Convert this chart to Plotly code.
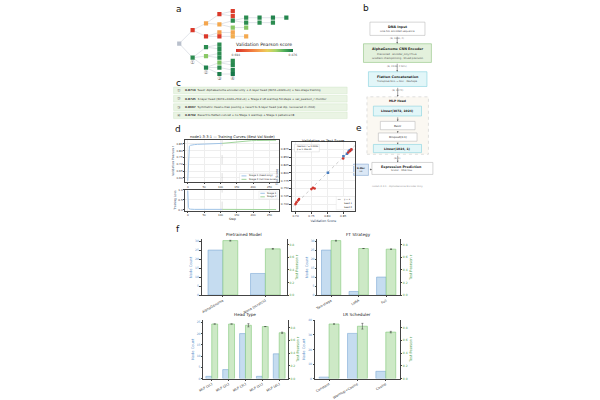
import plotly.graph_objects as go

FONT = "DejaVu Sans"
W, H = 600, 400

# ---------------- data ----------------
# panel a: search tree (depth, vertical slot, parent index, validation score; None = root)
tree_depth = [0, 1, 1, 2, 2, 2, 2, 2,
              3, 3, 3, 3, 3, 3, 3, 3, 3, 3, 3,
              4, 4, 4, 4, 4, 4, 4, 4, 4, 4,
              5, 5, 5, 5, 6, 6, 7, 7, 8]
tree_slot = [42.3, 28.7, 56.7, 21.7, 35, 46, 55, 66.7,
             12.3, 22.7, 31, 35, 43.3, 47.7, 52.3, 56.7, 61.7, 66.7, 73.3,
             9.3, 14.3, 19, 26, 31, 35, 60, 64.3, 69.3, 73.3,
             16, 21, 26, 35, 16, 21, 16, 21, 16]
tree_parent = [-1, 0, 0, 1, 1, 2, 2, 2,
               3, 3, 4, 4, 5, 5, 6, 6, 7, 7, 7,
               8, 8, 9, 9, 10, 11, 16, 16, 17, 18,
               21, 21, 22, 24, 29, 30, 33, 34, 35]
tree_score = [None, 0.700, 0.866, 0.770, 0.700, 0.866, 0.830, 0.871,
              0.700, 0.772, 0.765, 0.702, 0.866, 0.868, 0.866, 0.868, 0.835, 0.866, 0.8725,
              0.702, 0.705, 0.866, 0.830, 0.770, 0.775, 0.866, 0.868, 0.870, 0.8762,
              0.866, 0.866, 0.832, 0.772, 0.868, 0.866, 0.870, 0.866, 0.869]
path_marks = ["①", "②", "③", "④"]
path_nodes = [2, 7, 18, 28]
score_min, score_max = 0.694, 0.876

# panel c: improvement log
log_scores = ["0.8713", "0.8725", "0.8667", "0.8762"]
log_texts = [
    "Seed: AlphaGenome encoder-only + 2-layer head (3072→1024→1) + two-stage training",
    "3-layer head (3072→1024→512→1) + Stage 2 LR warmup 50 steps + val_pearson_r monitor",
    "Symmetric mean+max pooling + revert to 3-layer head (val dip, recovered in child)",
    "Revert to flatten concat + no Stage 1 warmup + Stage 1 patience=8",
]

# panel d: training curves
s1_steps = [0, 150, 300, 500, 800, 1200, 2000, 3000, 4500, 6000, 7500, 9000, 10500]
s1_val = [0.58, 0.70, 0.80, 0.832, 0.838, 0.841, 0.843, 0.845, 0.847, 0.848, 0.850, 0.851, 0.852]
s2_steps = [10500, 12000, 13500, 15000, 16500, 18000, 19500, 21000, 22500, 24000, 25500, 27000]
s2_val = [0.852, 0.856, 0.860, 0.864, 0.867, 0.870, 0.872, 0.873, 0.874, 0.874, 0.875, 0.875]
s1_loss_steps = [0, 100, 200, 400, 800, 2000, 5000, 10500]
s1_loss = [0.95, 0.40, 0.12, 0.06, 0.04, 0.03, 0.03, 0.03]
s2_loss_steps = [10500, 15000, 20000, 27000]
s2_loss = [0.03, 0.025, 0.02, 0.02]
stage_switch = 10500

# panel e: validation vs test
seed0_val = [0.700, 0.703, 0.708, 0.711, 0.750, 0.755, 0.760, 0.850, 0.866, 0.872, 0.876]
seed0_test = [0.700, 0.706, 0.712, 0.716, 0.748, 0.752, 0.750, 0.846, 0.865, 0.870, 0.875]
seed1_val = [0.802, 0.851, 0.862, 0.868, 0.871, 0.875]
seed1_test = [0.800, 0.853, 0.861, 0.869, 0.872, 0.874]

# panel f: ablation bars
pre_cats = ["AlphaGenome", "None (scratch)"]
pre_count = [25, 12]
pre_r = [0.866, 0.735]
pre_err = [0.008, 0.006]
ft_cats = ["Two-stage", "LoRA", "Full"]
ft_count = [25, 2, 10]
ft_r = [0.866, 0.74, 0.73]
ft_err = [0.008, 0.0, 0.004]
head_cats = ["MLP (1L)", "MLP (2L)", "MLP (3L)", "MLP (1L)", "MLP (4L)"]
head_count = [1, 4, 20, 1, 11]
head_r = [0.855, 0.855, 0.835, 0.815, 0.718]
head_err = [0.0, 0.0, 0.025, 0.0, 0.01]
lr_cats = ["Constant", "Warmup+Cosine", "Cosine"]
lr_count = [1, 31, 5]
lr_r = [0.855, 0.82, 0.728]
lr_err = [0.0, 0.045, 0.012]

# ---------------- helpers ----------------
shapes, annotations = [], []
BLUE_F, BLUE_E = "#c5dcf0", "#7ea9d5"
GREEN_F, GREEN_E = "#cde9c6", "#82c878"
BLUE_T, GREEN_T = "#5b8fc9", "#4c9a45"


def fx(x):
    return x / W


def fy(y):
    return 1 - y / H


def text(x, y, s, size=4.0, color="#222", bold=False, xanchor="center", yanchor="middle", angle=0):
    if bold:
        s = "<b>" + s + "</b>"
    annotations.append(dict(x=fx(x), y=fy(y), xref="paper", yref="paper", text=s, showarrow=False,
                            font=dict(size=size, color=color, family=FONT), xanchor=xanchor,
                            yanchor=yanchor, textangle=angle, borderpad=0))


def rect(x0, y0, x1, y1, fill, line, width=0.6, dash="solid", layer="below"):
    shapes.append(dict(type="rect", xref="paper", yref="paper", x0=fx(x0), x1=fx(x1), y0=fy(y1), y1=fy(y0),
                       fillcolor=fill, line=dict(color=line, width=width, dash=dash), layer=layer))


def arrow(x, y0, y1, color="#666"):
    annotations.append(dict(x=fx(x), y=fy(y1), xref="paper", yref="paper", ax=0, ay=(y1 - y0) * -1,
                            axref="pixel", ayref="pixel", showarrow=True, arrowhead=2, arrowsize=0.6,
                            arrowwidth=0.6, arrowcolor=color, text=""))


def dom_x(x0, x1):
    return [x0 / W, x1 / W]


def dom_y(top, bottom):
    return [1 - bottom / H, 1 - top / H]


# page background
rect(168, 0, 431, 400, "white", "white", width=0)

# ---------------- panel a ----------------
text(175, 7, "a", size=9, color="#111", xanchor="center")
ex, ey = [], []
for i, p in enumerate(tree_parent):
    if p >= 0:
        ex += [tree_depth[p], tree_depth[i], None]
        ey += [tree_slot[p], tree_slot[i], None]
fig = go.Figure()
fig.add_trace(go.Scatter(x=ex, y=ey, mode="lines", line=dict(color="#d9dde3", width=0.8),
                         xaxis="x9", yaxis="y9", hoverinfo="skip", showlegend=False))
scored = [i for i, s in enumerate(tree_score) if s is not None]
colorscale = [[0, "#d73027"], [0.22, "#ef6a3a"], [0.4, "#f6a04d"], [0.55, "#e9cf5a"],
              [0.7, "#a5d46a"], [0.85, "#4fae5b"], [1, "#17784a"]]
fig.add_trace(go.Scatter(
    x=[tree_depth[i] for i in scored], y=[tree_slot[i] for i in scored], mode="markers",
    marker=dict(symbol="square", size=4.2, color=[tree_score[i] for i in scored], colorscale=colorscale,
                cmin=score_min, cmax=score_max, line=dict(width=0),
                colorbar=dict(orientation="h", x=fx(261.5), xanchor="center", y=fy(48.2), yanchor="top",
                              lenmode="pixels", len=57, thickness=3.2, thicknessmode="pixels",
                              outlinewidth=0, xpad=0, ypad=0, tickvals=[score_min, score_max],
                              ticktext=[f"{score_min:.3f}", f"{score_max:.3f}"], ticks="",
                              tickfont=dict(size=3, family=FONT, color="#555"))),
    xaxis="x9", yaxis="y9", hoverinfo="skip", showlegend=False))
text(261.5, 43.5, "Validation Pearson score", size=4.6, color="#222")
fig.add_trace(go.Scatter(x=[tree_depth[0]], y=[tree_slot[0]], mode="markers",
                         marker=dict(symbol="square", size=4.2, color="#b9c0cc"),
                         xaxis="x9", yaxis="y9", hoverinfo="skip", showlegend=False))
fig.add_trace(go.Scatter(x=[tree_depth[i] for i in path_nodes], y=[tree_slot[i] + 5.2 for i in path_nodes],
                         mode="text", text=path_marks, textfont=dict(size=5, color="#777", family=FONT),
                         xaxis="x9", yaxis="y9", hoverinfo="skip", showlegend=False))

# ---------------- panel b ----------------
text(364, 6, "b", size=9, color="#111")
rect(368, 20.5, 423.5, 34, "white", "#bbbbbb")
text(395.5, 25, "DNA Input", size=3.3, bold=True)
text(395.5, 30, "One-hot encoded sequence", size=2.5, color="#555")
text(395.5, 37.5, "(B, 196k, 4)", size=2.4, color="#777")
arrow(395.5, 34, 42.5)
rect(361.5, 42.5, 430, 61.5, "#e3f1dc", "#8fc27f")
text(395.5, 48, "AlphaGenome CNN Encoder", size=3.3, bold=True)
text(395.5, 53.5, "Pretrained · encoder_only=True", size=2.5, color="#555")
text(395.5, 57.5, "Gradient checkpointing · Mixed precision", size=2.5, color="#555")
text(395.5, 65.5, "(B, 1536, 2 NCL)", size=2.4, color="#777")
arrow(395.5, 61.5, 71)
rect(366.5, 71, 425.5, 86, "#e2f6f8", "#84d2df")
text(396, 76, "Flatten Concatenation", size=3.3, bold=True)
text(396, 81.3, "Transpose NCL → NLC · Reshape", size=2.5, color="#555")
text(396, 90, "(B, 3072)", size=2.4, color="#777")
arrow(396, 86, 96.5)
rect(365, 96.5, 427, 155, "#fbf8f2", "#cccccc", dash="dot")
text(396, 101, "MLP Head", size=3.0, bold=True)
rect(371.5, 106, 420, 116, "#e2f6f8", "#84d2df")
text(396, 111, "Linear(3072, 1024)", size=3.0, bold=True)
arrow(396, 116, 121.5)
rect(378.5, 121.5, 413.5, 130, "white", "#bbbbbb")
text(396, 125.8, "ReLU", size=2.8)
arrow(396, 130, 133.3)
rect(376.5, 133.3, 415.5, 141.7, "white", "#bbbbbb")
text(396, 137.5, "Dropout(0.1)", size=2.8)
arrow(396, 141.7, 145)
rect(371.5, 145, 420, 153.3, "#e2f6f8", "#84d2df")
text(396, 149.2, "Linear(1024, 1)", size=3.0, bold=True)
text(396, 159.5, "(B, 1)", size=2.4, color="#777")
arrow(396, 155, 163.3)
rect(370, 163.3, 431.5, 175.5, "white", "#bbbbbb")
text(400, 167.5, "Expression Prediction", size=3.3, bold=True)
text(400, 172, "Scalar · MSE loss", size=2.5, color="#555")
rect(351.5, 165, 366.5, 176.5, "#dbe8f6", "#86a9d3")
text(359, 169, "K-Mer", size=2.4, bold=True)
text(359, 173, "Tok", size=2.2, color="#555")
annotations.append(dict(x=fx(370), y=fy(170.5), xref="paper", yref="paper", ax=-3.5, ay=0,
                        axref="pixel", ayref="pixel", showarrow=True, arrowhead=2, arrowsize=0.6,
                        arrowwidth=0.6, arrowcolor="#666", text=""))
text(396, 188, "node1-3-3-1 · AlphaGenome Encoder Only", size=2.4, color="#999")

# ---------------- panel c ----------------
text(175, 82, "c", size=9, color="#111")
row_y = [90, 98.5, 107, 115.3]
for k in range(4):
    rect(170, row_y[k] - 3.4, 345, row_y[k] + 3.4, "#eaf4e4", "#c9e3bf", width=0.4)
    text(175.5, row_y[k], path_marks[k], size=4.2, color="#555")
    text(181, row_y[k], "<b>" + log_scores[k] + "</b>  " + log_texts[k], size=2.8, color="#333",
         xanchor="left")

# ---------------- panel d ----------------
text(174, 129, "d", size=9, color="#111")
text(229, 137, "node1-3-3-1 — Training Curves (Best Val Node)", size=3.6)
fig.add_trace(go.Scatter(x=s1_steps, y=s1_val, mode="lines", line=dict(color="#9fc3e6", width=1),
                         name="Stage 1 (head only)", xaxis="x", yaxis="y", showlegend=False))
fig.add_trace(go.Scatter(x=s2_steps, y=s2_val, mode="lines", line=dict(color="#9fd49a", width=1),
                         name="Stage 2 (full fine-tune)", xaxis="x", yaxis="y", showlegend=False))
fig.add_trace(go.Scatter(x=s1_loss_steps, y=s1_loss, mode="lines", line=dict(color="#9fc3e6", width=1),
                         xaxis="x2", yaxis="y2", showlegend=False))
fig.add_trace(go.Scatter(x=s2_loss_steps, y=s2_loss, mode="lines", line=dict(color="#9fd49a", width=1),
                         xaxis="x2", yaxis="y2", showlegend=False))
for ax in ["x", "x2"]:
    shapes.append(dict(type="line", xref=ax, yref=("y domain" if ax == "x" else "y2 domain"),
                       x0=stage_switch, x1=stage_switch, y0=0, y1=1,
                       line=dict(color="#bbbbbb", width=0.5, dash="dash")))
# legends (drawn manually)
rect(236.5, 174.5, 275, 183, "white", "#dddddd", width=0.4, layer="above")
shapes.append(dict(type="line", xref="paper", yref="paper", x0=fx(238.5), x1=fx(243.5), y0=fy(177),
                   y1=fy(177), line=dict(color="#9fc3e6", width=1)))
shapes.append(dict(type="line", xref="paper", yref="paper", x0=fx(238.5), x1=fx(243.5), y0=fy(180.5),
                   y1=fy(180.5), line=dict(color="#9fd49a", width=1)))
text(245, 177, "Stage 1 (head only)", size=2.4, xanchor="left")
text(245, 180.5, "Stage 2 (full fine-tune)", size=2.4, xanchor="left")
rect(256, 192.5, 274.5, 200.5, "white", "#dddddd", width=0.4, layer="above")
shapes.append(dict(type="line", xref="paper", yref="paper", x0=fx(257.5), x1=fx(262), y0=fy(194.7),
                   y1=fy(194.7), line=dict(color="#9fc3e6", width=1)))
shapes.append(dict(type="line", xref="paper", yref="paper", x0=fx(257.5), x1=fx(262), y0=fy(198.3),
                   y1=fy(198.3), line=dict(color="#9fd49a", width=1)))
text(263.5, 194.7, "Stage 1", size=2.4, xanchor="left")
text(263.5, 198.3, "Stage 2", size=2.4, xanchor="left")
text(229, 220.5, "Step", size=3.0)

# ---------------- panel e ----------------
text(357, 128, "e", size=9, color="#111")
text(321, 141, "Validation vs Test Score", size=3.6)
fig.add_trace(go.Scatter(x=[0.68, 0.89], y=[0.68, 0.89], mode="lines",
                         line=dict(color="#aaaaaa", width=0.6, dash="dot"), xaxis="x3", yaxis="y3",
                         showlegend=False))
fig.add_trace(go.Scatter(x=seed1_val, y=seed1_test, mode="markers",
                         marker=dict(color="#4a7fc0", size=2.6, symbol="square"), xaxis="x3", yaxis="y3",
                         showlegend=False))
fig.add_trace(go.Scatter(x=seed0_val, y=seed0_test, mode="markers",
                         marker=dict(color="#d0352d", size=2.6), xaxis="x3", yaxis="y3",
                         showlegend=False))
rect(292, 145, 317, 152.5, "white", "#cccccc", width=0.4, layer="above")
text(293, 147, "Pearson r = 0.9993", size=2.2, xanchor="left")
text(293, 150.5, "p = 1.19e-39", size=2.2, xanchor="left")
rect(334, 198, 352.5, 211.5, "white", "#dddddd", width=0.4, layer="above")
shapes.append(dict(type="line", xref="paper", yref="paper", x0=fx(335.5), x1=fx(339.5), y0=fy(201),
                   y1=fy(201), line=dict(color="#999", width=0.6, dash="dot")))
fig.add_trace(go.Scatter(x=[fx(337.5)], y=[fy(205)], mode="markers",
                         marker=dict(color="#4a7fc0", size=2.4, symbol="square"), xaxis="x10", yaxis="y10",
                         showlegend=False))
fig.add_trace(go.Scatter(x=[fx(337.5)], y=[fy(208.7)], mode="markers",
                         marker=dict(color="#d0352d", size=2.4), xaxis="x10", yaxis="y10", showlegend=False))
text(341, 201, "y = x", size=2.3, xanchor="left")
text(341, 205, "Seed 1", size=2.3, xanchor="left")
text(341, 208.7, "Seed 0", size=2.3, xanchor="left")

# ---------------- panel f ----------------
text(174, 231, "f", size=9, color="#111")
f_panels = [
    ("Pretrained Model", pre_cats, pre_count, pre_r, pre_err, (198.3, 284), (241.7, 298.3), 30.9, 0.884, "4", 5),
    ("FT Strategy", ft_cats, ft_count, ft_r, ft_err, (315, 398.3), (241.7, 298.3), 30.9, 0.884, "5", 5),
    ("Head Type", head_cats, head_count, head_r, head_err, (200, 285), (323.5, 383.3), 26.1, 0.92, "6", 5),
    ("LR Scheduler", lr_cats, lr_count, lr_r, lr_err, (312.5, 398.3), (323.5, 383.3), 40.3, 0.92, "7", 10),
]
layout_axes = {}
for title, cats, cnt, r, err, xd, yd, cmax, rmax, n, dt in f_panels:
    xa, ya = "x" + n, "y" + n
    ya2 = "y" + str(int(n) + 10)
    idx = list(range(len(cats)))
    fig.add_trace(go.Bar(x=[i - 0.175 for i in idx], y=cnt, width=0.35, marker=dict(color=BLUE_F,
                         line=dict(color=BLUE_E, width=0.6)), xaxis=xa, yaxis=ya, showlegend=False))
    fig.add_trace(go.Bar(x=[i + 0.175 for i in idx], y=r, width=0.35,
                         marker=dict(color=GREEN_F, line=dict(color=GREEN_E, width=0.6)),
                         error_y=dict(type="data", array=err, color="#333", thickness=0.5, width=1),
                         xaxis=xa, yaxis=ya2, showlegend=False))
    n_cat = len(cats)
    layout_axes["xaxis" + n] = dict(domain=dom_x(*xd), anchor=ya, range=[-0.5, n_cat - 0.5],
                                    tickvals=idx, ticktext=cats, tickangle=-30,
                                    tickfont=dict(size=3.4, family=FONT, color="#333"),
                                    showline=True, linecolor="#444", linewidth=0.5, ticks="outside",
                                    ticklen=1.5, tickwidth=0.5, showgrid=False, zeroline=False)
    layout_axes["yaxis" + n] = dict(domain=dom_y(*yd), anchor=xa, range=[0, cmax], dtick=dt,
                                    tickfont=dict(size=3.0, family=FONT, color=BLUE_T),
                                    title=dict(text="Node Count", font=dict(size=3.6, color=BLUE_T, family=FONT),
                                               standoff=2),
                                    showline=True, linecolor="#444", linewidth=0.5, ticks="outside",
                                    ticklen=1.5, tickwidth=0.5, showgrid=False, zeroline=False)
    layout_axes["yaxis" + str(int(n) + 10)] = dict(overlaying=ya, side="right", anchor=xa, range=[0, rmax],
                                                    dtick=0.2, tickformat=".1f",
                                                    tickfont=dict(size=3.0, family=FONT, color=GREEN_T),
                                                    title=dict(text="Test Pearson r",
                                                               font=dict(size=3.6, color=GREEN_T, family=FONT),
                                                               standoff=2),
                                                    showline=True, linecolor="#444", linewidth=0.5,
                                                    ticks="outside", ticklen=1.5, tickwidth=0.5,
                                                    showgrid=False, zeroline=False)
    text((xd[0] + xd[1]) / 2, yd[0] - 5, title, size=4.2)

ax_common = dict(showline=True, linecolor="#444", linewidth=0.5, ticks="outside", ticklen=1.5,
                 tickwidth=0.5, tickfont=dict(size=2.8, family=FONT, color="#333"), zeroline=False,
                 showgrid=True, gridcolor="#eeeeee", gridwidth=0.4, mirror=True)

fig.update_layout(
    width=W, height=H, margin=dict(l=0, r=0, t=0, b=0),
    paper_bgcolor="rgba(0,0,0,0)", plot_bgcolor="rgba(0,0,0,0)",
    font=dict(family=FONT), barmode="overlay", showlegend=False,
    xaxis=dict(domain=dom_x(182, 276), anchor="y", range=[-700, 27800], dtick=5000, **ax_common),
    yaxis=dict(domain=dom_y(140, 183.3), anchor="x", range=[0.57, 0.88], dtick=0.05, tickformat=".2f",
               title=dict(text="Validation Pearson r", font=dict(size=3.0, family=FONT), standoff=2),
               **ax_common),
    xaxis2=dict(domain=dom_x(182, 276), anchor="y2", range=[-700, 27800], dtick=5000, **ax_common),
    yaxis2=dict(domain=dom_y(191, 212.3), anchor="x2", range=[-0.03, 1.0], dtick=0.5, tickformat=".1f",
                title=dict(text="Training Loss", font=dict(size=3.0, family=FONT), standoff=2), **ax_common),
    xaxis3=dict(domain=dom_x(289, 353), anchor="y3", range=[0.6875, 0.8875], dtick=0.05, tickformat=".2f",
                title=dict(text="Validation Score", font=dict(size=3.2, family=FONT), standoff=2), **ax_common),
    yaxis3=dict(domain=dom_y(143, 213), anchor="x3", range=[0.677, 0.897], dtick=0.025, tickformat=".3f",
                title=dict(text="Test Score", font=dict(size=3.2, family=FONT), standoff=2), **ax_common),
    xaxis9=dict(domain=dom_x(168, 300), anchor="y9", range=[(168 - 175.7) / 13.5, (300 - 175.7) / 13.5],
                visible=False),
    yaxis9=dict(domain=dom_y(0, 82), anchor="x9", range=[82, 0], visible=False),
    xaxis10=dict(domain=[0, 1], anchor="y10", range=[0, 1], visible=False),
    yaxis10=dict(domain=[0, 1], anchor="x10", range=[0, 1], visible=False),
    shapes=shapes, annotations=annotations,
)
fig.update_layout(**layout_axes)
fig.write_html("out.html", config={"displayModeBar": False},
               post_script="document.body.style.margin='0';document.body.style.overflow='hidden';")
